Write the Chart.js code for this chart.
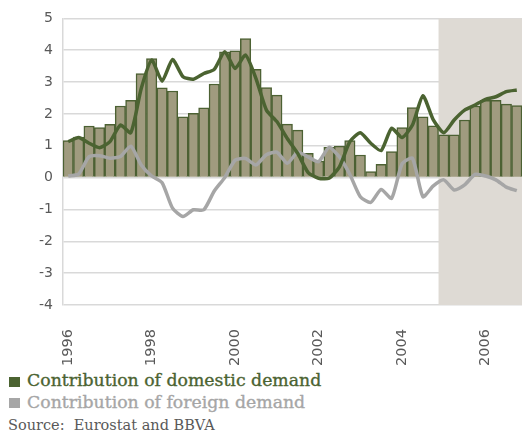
<!DOCTYPE html>
<html>
<head>
<meta charset="utf-8">
<script src="https://cdn.jsdelivr.net/npm/chart.js@4.4.1/dist/chart.umd.min.js"></script>
<style>
  body { margin: 0; background: #fff; }
  #wrap { position: relative; width: 522px; height: 433px; }
  #gdpChart { position: absolute; left: 0; top: 0; }
  .leg { position: absolute; left: 27px; font-family: "DejaVu Serif", serif; font-size: 17.3px; line-height: 16px; white-space: nowrap; -webkit-text-stroke: 0.35px currentColor; }
  .sq { position: absolute; left: 9px; width: 11px; height: 10px; }
  #source { position: absolute; left: 8px; top: 418px; font-family: "DejaVu Serif", serif; font-size: 14.5px; line-height: 14px; color: #595959; white-space: nowrap; }
</style>
</head>
<body>
<div id="wrap">
  <canvas id="gdpChart" width="522" height="365"></canvas>
  <div class="sq" style="top:377px; background:#4b6331;"></div>
  <div class="leg" style="top:372px; color:#4b6331;">Contribution of domestic demand</div>
  <div class="sq" style="top:398px; background:#a6a6a6;"></div>
  <div class="leg" style="top:394px; color:#a6a6a6;">Contribution of foreign demand</div>
  <div id="source">Source:&nbsp; Eurostat and BBVA</div>
</div>
<script>
// quarterly data, 1996Q1 - 2006Q4
let quarters = [
  '1996Q1', '1996Q2', '1996Q3', '1996Q4', '1997Q1', '1997Q2', '1997Q3', '1997Q4',
  '1998Q1', '1998Q2', '1998Q3', '1998Q4', '1999Q1', '1999Q2', '1999Q3', '1999Q4',
  '2000Q1', '2000Q2', '2000Q3', '2000Q4', '2001Q1', '2001Q2', '2001Q3', '2001Q4',
  '2002Q1', '2002Q2', '2002Q3', '2002Q4', '2003Q1', '2003Q2', '2003Q3', '2003Q4',
  '2004Q1', '2004Q2', '2004Q3', '2004Q4', '2005Q1', '2005Q2', '2005Q3', '2005Q4',
  '2006Q1', '2006Q2', '2006Q3', '2006Q4'
];
let yearTicks = ['1996', '1998', '2000', '2002', '2004', '2006'];

// GDP growth (bars)
let gdpGrowth = [
  1.16, 1.27, 1.62, 1.57, 1.67, 2.25, 2.43, 3.27, 3.74, 2.82, 2.72,
  1.91, 2.02, 2.19, 2.94, 3.95, 3.98, 4.37, 3.40, 2.83, 2.59, 1.68,
  1.49, 0.76, 0.52, 0.95, 0.99, 1.16, 0.71, 0.19, 0.42, 0.82, 1.57,
  2.20, 1.91, 1.63, 1.34, 1.34, 1.81, 2.25, 2.43, 2.43, 2.31, 2.26
];
let domesticDemand = [
  1.13, 1.26, 1.08, 0.94, 1.13, 1.65, 1.41, 2.80, 3.69, 3.03, 3.71,
  3.17, 3.09, 3.27, 3.40, 3.95, 3.43, 3.85, 3.11, 2.12, 1.76, 1.23,
  0.76, 0.16, -0.02, -0.02, 0.34, 1.13, 1.41, 1.08, 0.85, 1.55, 1.26,
  1.65, 2.57, 1.81, 1.41, 1.81, 2.12, 2.28, 2.46, 2.54, 2.70, 2.75
];
let foreignDemand = [
  0.05, 0.11, 0.66, 0.69, 0.61, 0.66, 0.99, 0.40, 0.05, -0.16, -0.96,
  -1.22, -1.01, -1.01, -0.42, 0.00, 0.55, 0.60, 0.40, 0.72, 0.80, 0.45,
  0.80, 0.65, 0.50, 0.95, 0.65, 0.10, -0.60, -0.78, -0.37, -0.65, 0.43,
  0.61, -0.60, -0.26, -0.07, -0.39, -0.23, 0.10, 0.05, -0.07, -0.30, -0.41
];
// first forecast quarter (shaded)
let forecastStart = 36;

const forecastShade = {
  id: 'forecastShade',
  beforeDatasetsDraw(chart) {
    let x = chart.scales.x;
    let area = chart.chartArea;
    let half = (x.getPixelForValue(1) - x.getPixelForValue(0)) / 2;
    let left = x.getPixelForValue(forecastStart) - half;
    let ctx = chart.ctx;
    ctx.save();
    ctx.fillStyle = '#dedad4';
    ctx.fillRect(left, area.top, area.right - left, area.bottom - area.top);
    ctx.restore();
  }
};

let ctx = document.getElementById('gdpChart').getContext('2d');
new Chart(ctx, {
  type: 'bar',
  data: {
    labels: quarters,
    datasets: [
      {
        type: 'line',
        label: 'Contribution of domestic demand',
        data: domesticDemand,
        borderColor: '#4b6331',
        borderWidth: 3.5,
        pointRadius: 0,
        tension: 0.2,
        order: 1
      },
      {
        type: 'line',
        label: 'Contribution of foreign demand',
        data: foreignDemand,
        borderColor: '#a6a6a6',
        borderWidth: 3.5,
        pointRadius: 0,
        tension: 0.2,
        order: 2
      },
      {
        label: 'GDP',
        data: gdpGrowth,
        backgroundColor: '#a09b7f',
        borderColor: '#4c6133',
        borderWidth: 1.5,
        barPercentage: 1,
        categoryPercentage: 1,
        order: 3
      }
    ]
  },
  options: {
    responsive: false,
    animation: false,
    layout: { padding: { top: 18, right: 0, left: 0, bottom: 0 } },
    plugins: {
      legend: { display: false },
      tooltip: { enabled: false }
    },
    scales: {
      x: {
        grid: { display: false, drawTicks: false },
        border: { display: false },
        ticks: {
          autoSkip: false,
          maxRotation: 90,
          minRotation: 90,
          padding: 24,
          color: '#595959',
          font: { family: 'DejaVu Sans', size: 14.5 },
          callback: (v, i) => i % 8 === 0 ? yearTicks[i / 8] : ''
        },
        afterFit: scale => {
          scale.height = 60;
          scale.paddingLeft = 0;
          scale.paddingRight = 0;
        }
      },
      y: {
        min: -4,
        max: 5,
        grid: { color: '#d9d9d9', lineWidth: 1.5, drawTicks: false },
        border: { display: true, color: '#d9d9d9', width: 1.5 },
        ticks: {
          stepSize: 1,
          padding: 10,
          color: '#595959',
          font: { family: 'DejaVu Sans', size: 14 }
        },
        afterFit: scale => {
          scale.width = 63;
        }
      }
    }
  },
  plugins: [forecastShade]
});
</script>
</body>
</html>
